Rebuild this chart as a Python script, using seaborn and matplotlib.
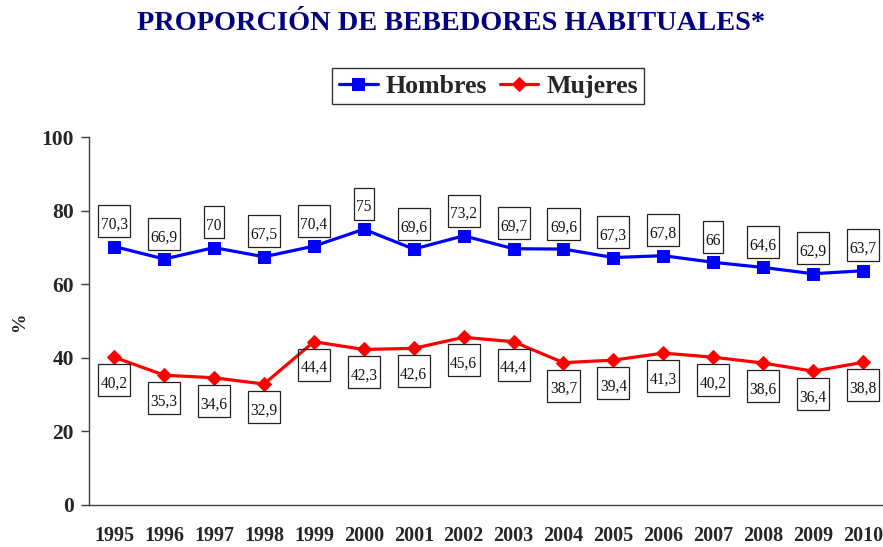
import pandas as pd
import matplotlib.pyplot as plt
import seaborn as sns
from matplotlib.patches import Rectangle
from matplotlib.transforms import IdentityTransform

# Datos
anios = ['1995', '1996', '1997', '1998', '1999', '2000', '2001', '2002',
         '2003', '2004', '2005', '2006', '2007', '2008', '2009', '2010']
hombres = [70.3, 66.9, 70, 67.5, 70.4, 75, 69.6, 73.2, 69.7, 69.6, 67.3, 67.8, 66, 64.6, 62.9, 63.7]
mujeres = [40.2, 35.3, 34.6, 32.9, 44.4, 42.3, 42.6, 45.6, 44.4, 38.7, 39.4, 41.3, 40.2, 38.6, 36.4, 38.8]

df = pd.DataFrame({'pos': range(len(anios)), 'Hombres': hombres, 'Mujeres': mujeres})

sns.set_style("white")
plt.rcParams['font.family'] = ['Liberation Serif', 'DejaVu Serif']

fig = plt.figure(figsize=(8.83, 5.47), dpi=100)
ax = fig.add_axes([0.1011, 0.0768, 0.9045, 0.6722])

sns.lineplot(data=df, x='pos', y='Hombres', ax=ax, color='#0000FF', linewidth=2.3,
             marker='s', markersize=8.5, markeredgecolor='#0000FF', label='Hombres')
sns.lineplot(data=df, x='pos', y='Mujeres', ax=ax, color='#FF0000', linewidth=2.3,
             marker='D', markersize=6.8, markeredgecolor='#FF0000', label='Mujeres')

ax.set_xlim(-0.5, len(anios) - 0.5)
ax.set_ylim(0, 100)
ax.set_yticks([0, 20, 40, 60, 80, 100])
ax.set_xticks(range(len(anios)))
ax.set_xticklabels(anios)
ax.set_xticks([i - 0.5 for i in range(len(anios) + 1)], minor=True)
ax.tick_params(axis='x', which='major', length=0, pad=15, labelsize=14.5)
ax.tick_params(axis='x', which='minor', length=5, width=1, color='#404040', direction='out')
ax.tick_params(axis='y', length=6, width=1, color='#404040', direction='out', pad=5, labelsize=15.5)
ax.tick_params(axis='both', bottom=True, left=True)
for lab in ax.get_xticklabels() + ax.get_yticklabels():
    lab.set_fontweight('bold')

ax.set_xlabel('')
ax.set_ylabel('%', fontsize=14, fontweight='bold')
ax.yaxis.set_label_coords(-0.077, 0.5)
sns.despine(ax=ax)
for s in ['left', 'bottom']:
    ax.spines[s].set_color('#404040')
    ax.spines[s].set_linewidth(1)

fig.text(0.511, 1 - 23 / 547, 'PROPORCIÓN DE BEBEDORES HABITUALES*', ha='center', va='center',
         fontsize=20.4, fontweight='bold', color='#000080')

handles, labels = ax.get_legend_handles_labels()
leg = ax.legend(handles, labels, loc='center', bbox_to_anchor=(0.553, 1 - 86 / 547),
                bbox_transform=fig.transFigure, ncol=2, frameon=True, fancybox=False,
                edgecolor='black', prop={'size': 18.6, 'weight': 'bold'},
                handlelength=1.5, handletextpad=0.3, columnspacing=0.5, borderpad=0.25,
                borderaxespad=0)
leg.get_frame().set_linewidth(1)

# Etiquetas de datos
textos = []
for i, v in enumerate(hombres):
    t = ax.annotate(f"{v:g}".replace('.', ','), (i, v), xytext=(0, 15.7), textcoords='offset points',
                    ha='center', va='center', fontsize=11.2, color='#111111')
    textos.append(t)
for i, v in enumerate(mujeres):
    t = ax.annotate(f"{v:g}".replace('.', ','), (i, v), xytext=(0, -19), textcoords='offset points',
                    ha='center', va='center', fontsize=11.2, color='#111111')
    textos.append(t)

fig.canvas.draw()
renderer = fig.canvas.get_renderer()
for t in textos:
    bb = t.get_window_extent(renderer)
    cx = (bb.x0 + bb.x1) / 2
    cy = (bb.y0 + bb.y1) / 2 + 3.5
    w = bb.width + 5
    h = 32
    rect = Rectangle((cx - w / 2, cy - h / 2), w, h, facecolor='none', edgecolor='#222222',
                     linewidth=0.9, transform=IdentityTransform())
    fig.add_artist(rect)

fig.savefig('out.png', dpi=100)
